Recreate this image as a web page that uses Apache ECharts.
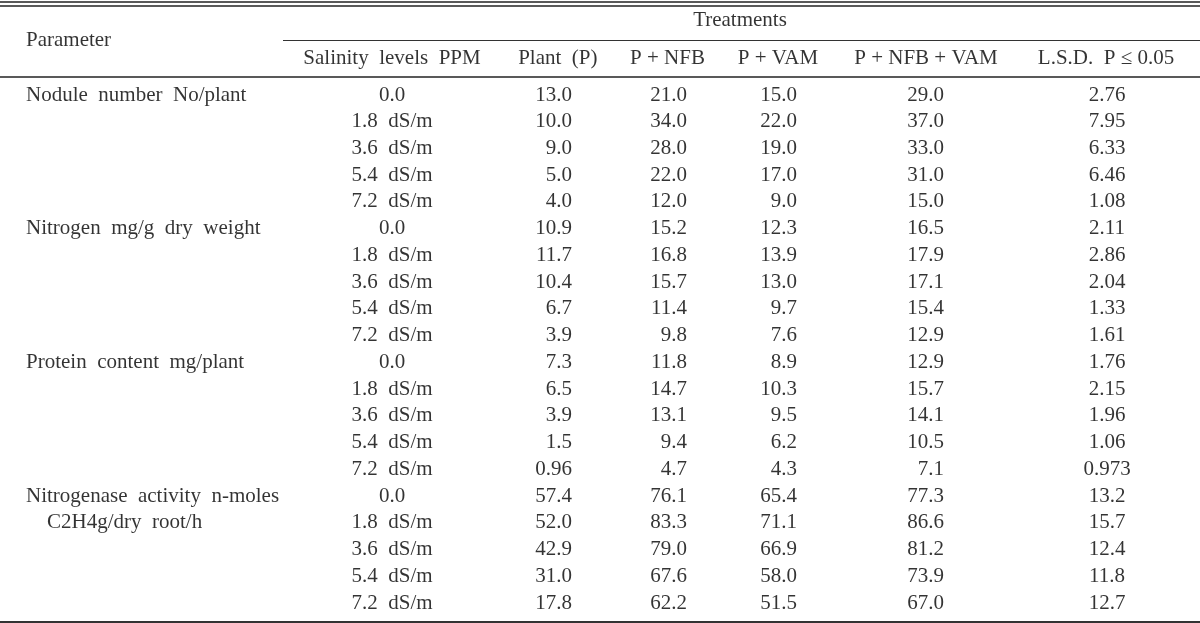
<!DOCTYPE html>
<html><head><meta charset="utf-8">
<script src="https://cdn.jsdelivr.net/npm/echarts@6/dist/echarts.min.js"></script>
<style>html,body{margin:0;padding:0;background:#fff}#c{width:1200px;height:623px}</style>
</head><body><div id="c"></div>
<script>
// ---- table content ----
const parameters = ['Nodule  number  No/plant', 'Nitrogen  mg/g  dry  weight', 'Protein  content  mg/plant', 'Nitrogenase  activity  n-moles'];
const parameterSub = ['', '', '', 'C2H4g/dry  root/h'];
const salinityLevels = ['0.0', '1.8  dS/m', '3.6  dS/m', '5.4  dS/m', '7.2  dS/m'];
const parameterHeader = 'Parameter';
const groupHeader = 'Treatments';
const columnHeaders = ['Salinity  levels  PPM', 'Plant  (P)', 'P + NFB', 'P + VAM', 'P + NFB + VAM', 'L.S.D.  P ≤ 0.05'];
const plantP  = ['13.0','10.0','9.0','5.0','4.0','10.9','11.7','10.4','6.7','3.9','7.3','6.5','3.9','1.5','0.96','57.4','52.0','42.9','31.0','17.8'];
const pNFB    = ['21.0','34.0','28.0','22.0','12.0','15.2','16.8','15.7','11.4','9.8','11.8','14.7','13.1','9.4','4.7','76.1','83.3','79.0','67.6','62.2'];
const pVAM    = ['15.0','22.0','19.0','17.0','9.0','12.3','13.9','13.0','9.7','7.6','8.9','10.3','9.5','6.2','4.3','65.4','71.1','66.9','58.0','51.5'];
const pNFBVAM = ['29.0','37.0','33.0','31.0','15.0','16.5','17.9','17.1','15.4','12.9','12.9','15.7','14.1','10.5','7.1','77.3','86.6','81.2','73.9','67.0'];
const lsd     = ['2.76','7.95','6.33','6.46','1.08','2.11','2.86','2.04','1.33','1.61','1.76','2.15','1.96','1.06','0.973','13.2','15.7','12.4','11.8','12.7'];

// ---- layout (axis units: x in table columns space, y in row units) ----
const L = {
  paramX: 26, subX: 47,
  colAnchor: [392, 572, 687, 797, 944, 1107],
  colAlign: ['center', 'right', 'right', 'right', 'right', 'center'],
  headerX: [392, 557.8, 667.5, 778, 926, 1106],
  groupX: 740, groupSpan: [283, 1200],
  rowParamHeader: -2.057, rowGroup: -2.78, rowHeader: -1.36,
  lineTop1: -3.478, lineTop2: -3.329, lineGroup: -2.057, lineHeader: -0.684, lineBottom: 19.692,
  font: 21
};

const items = [];
function cell(x, y, text, align) {
  items.push({ value: [x, y], name: text, label: { align: align } });
}
cell(L.paramX, L.rowParamHeader, parameterHeader, 'left');
cell(L.groupX, L.rowGroup, groupHeader, 'center');
columnHeaders.forEach((h, i) => cell(L.headerX[i], L.rowHeader, h, 'center'));
const dataCols = [null, plantP, pNFB, pVAM, pNFBVAM, lsd];
parameters.forEach((p, g) => {
  cell(L.paramX, g * 5, p, 'left');
  if (parameterSub[g]) cell(L.subX, g * 5 + 1, parameterSub[g], 'left');
  salinityLevels.forEach((s, k) => {
    const r = g * 5 + k;
    cell(L.colAnchor[0], r, s, L.colAlign[0]);
    for (let c = 1; c < dataCols.length; c++) cell(L.colAnchor[c], r, dataCols[c][r], L.colAlign[c]);
  });
});

function hline(y, x1, x2, w, color) {
  return [{ coord: [x1, y], lineStyle: { width: w, color: color, type: 'solid' } }, { coord: [x2, y] }];
}

const option = {
  animation: false,
  backgroundColor: '#fff',
  grid: { left: 0, right: 0, top: 0, bottom: 0 },
  xAxis: { type: 'value', min: 0, max: 1200, show: false },
  yAxis: { type: 'value', inverse: true, min: -3.553, max: 19.748, show: false },
  series: [{
    type: 'scatter',
    symbolSize: 0,
    silent: true,
    data: items,
    label: {
      show: true, position: 'inside', verticalAlign: 'middle',
      formatter: p => p.name,
      fontFamily: '"Liberation Serif", "Times New Roman", serif',
      fontSize: L.font, color: '#000'
    },
    markLine: {
      silent: true, symbol: ['none', 'none'], label: { show: false },
      data: [
        hline(L.lineTop1, 0, 1200, 1.5, '#222'),
        hline(L.lineTop2, 0, 1200, 1.5, '#222'),
        hline(L.lineGroup, L.groupSpan[0], L.groupSpan[1], 1.2, '#333'),
        hline(L.lineHeader, 0, 1200, 1.5, '#222'),
        hline(L.lineBottom, 0, 1200, 2, '#333')
      ]
    }
  }]
};
const chart = echarts.init(document.getElementById('c'), null, { renderer: 'canvas' });
chart.setOption(option);
</script>
</body></html>
